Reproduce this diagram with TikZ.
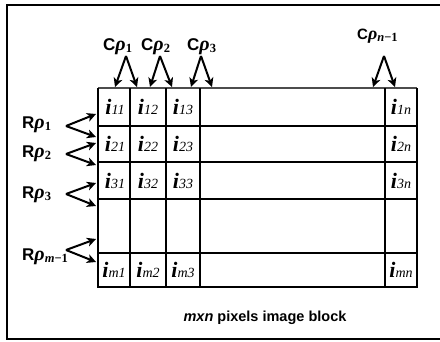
\documentclass[tikz,border=0pt]{standalone}
\usepackage{fontspec}
\setmainfont{Liberation Serif}
\setsansfont{Liberation Sans}
\usetikzlibrary{arrows.meta}
\newcommand{\rholab}[4]{{\fontsize{#3}{#3}\selectfont\sffamily\bfseries #1}{\fontsize{#4}{#4}\selectfont\bfseries\itshape ρ}\raisebox{-0.25em}{\fontsize{12.5}{12.5}\selectfont\bfseries #2}}
\newcommand{\cellt}[1]{{\fontsize{22}{22}\selectfont\bfseries\itshape i}{\fontsize{14}{14}\selectfont\itshape #1}}
\tikzset{
  lab/.style={inner sep=0pt, anchor=base west},
  celltext/.style={inner sep=0pt, anchor=center},
  hline/.style={line width=2pt, black},
  vline/.style={line width=1.6pt, black},
  arr/.style={line width=2pt, -{Stealth[length=9pt,width=9pt,inset=2.5pt]}},
}
\begin{document}
\begin{tikzpicture}[x=1pt,y=-1pt]
\useasboundingbox (0,0) rectangle (440,341);
% outer frame (open on the right)
\draw[line width=1.1pt] (441,5) -- (7,5) -- (7,339) -- (441,339);
% grid
\draw[line width=1.4pt, black!70] (98,88) -- (417,88);
\foreach \y in {126,162,199,253,287} \draw[hline] (97,\y) -- (418,\y);
\foreach \x in {98,130,166,200,385,417} \draw[vline] (\x,88) -- (\x,287);
% cell texts
\node[celltext] (c11) at (115,107) {\cellt{11}};
\node[celltext] (c12) at (148,107) {\cellt{12}};
\node[celltext] (c13) at (183,107) {\cellt{13}};
\node[celltext] (c1n) at (401,107) {\cellt{1n}};
\node[celltext] (c21) at (115,144) {\cellt{21}};
\node[celltext] (c22) at (148,144) {\cellt{22}};
\node[celltext] (c23) at (183,144) {\cellt{23}};
\node[celltext] (c2n) at (401,144) {\cellt{2n}};
\node[celltext] (c31) at (115,180.5) {\cellt{31}};
\node[celltext] (c32) at (148,180.5) {\cellt{32}};
\node[celltext] (c33) at (183,180.5) {\cellt{33}};
\node[celltext] (c3n) at (401,180.5) {\cellt{3n}};
\node[celltext] (cm1) at (114,270) {\cellt{m1}};
\node[celltext] (cm2) at (148,270) {\cellt{m2}};
\node[celltext] (cm3) at (183,270) {\cellt{m3}};
\node[celltext] (cmn) at (401,270) {\cellt{mn}};
% column labels
\node[lab] (C1) at (103,50) {\rholab{C}{1}{17}{20}};
\node[lab] (C2) at (141,50) {\rholab{C}{2}{17}{20}};
\node[lab] (C3) at (187,50) {\rholab{C}{3}{17}{20}};
\node[lab] (Cn) at (357,39) {\rholab{C}{\textit{n}−1}{15}{18}};
% row labels
\node[lab] (R1) at (22,128) {\rholab{R}{1}{17}{20}};
\node[lab] (R2) at (22,157) {\rholab{R}{2}{17}{20}};
\node[lab] (R3) at (22,198) {\rholab{R}{3}{17}{20}};
\node[lab] (Rm) at (22,260) {\rholab{R}{\textit{m}−1}{17}{20}};
% column arrow coordinates
\coordinate (ca1) at (126,56); \coordinate (ca1l) at (115,87); \coordinate (ca1r) at (137,87);
\coordinate (ca2) at (160,56); \coordinate (ca2l) at (150,87); \coordinate (ca2r) at (172,87);
\coordinate (ca3) at (201,56); \coordinate (ca3l) at (191,87); \coordinate (ca3r) at (212,87);
\coordinate (can) at (384,56); \coordinate (canl) at (373,87); \coordinate (canr) at (395,87);
\foreach \c in {ca1,ca2,ca3,can}{
  \draw[arr] (\c) -- (\c l);
  \draw[arr] (\c) -- (\c r);
}
% row arrow coordinates
\coordinate (ra1) at (66,126); \coordinate (ra1u) at (96,114); \coordinate (ra1d) at (96,137);
\coordinate (ra2) at (66,154); \coordinate (ra2u) at (96,143); \coordinate (ra2d) at (96,165);
\coordinate (ra3) at (66,194); \coordinate (ra3u) at (96,183); \coordinate (ra3d) at (96,206);
\coordinate (ram) at (66,250); \coordinate (ramu) at (96,239); \coordinate (ramd) at (96,262);
\foreach \r in {ra1,ra2,ra3,ram}{
  \draw[arr] (\r) -- (\r u);
  \draw[arr] (\r) -- (\r d);
}
% caption
\node[inner sep=0pt] (cap) at (265,318) {\fontsize{14.5}{14.5}\selectfont\sffamily\bfseries\textit{mxn} pixels image block};
\end{tikzpicture}
\end{document}
